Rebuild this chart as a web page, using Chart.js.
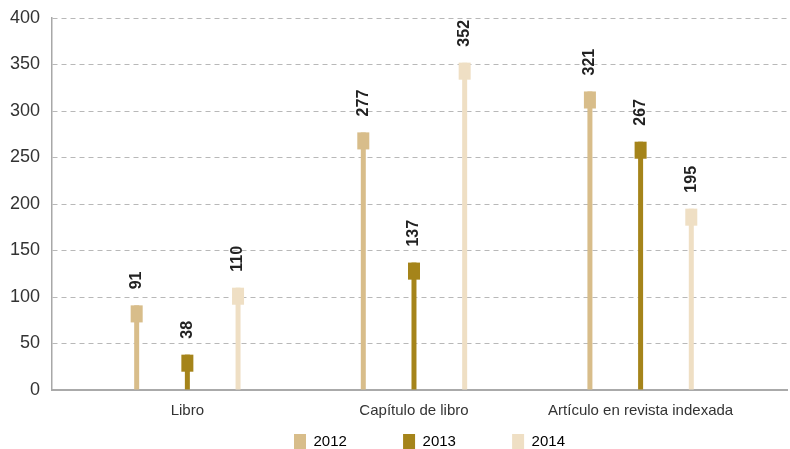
<!DOCTYPE html>
<html>
<head>
<meta charset="utf-8">
<script src="https://cdn.jsdelivr.net/npm/chart.js@4/dist/chart.umd.min.js"></script>
<style>
html,body{margin:0;padding:0;background:#fff;}
#wrap{width:790px;height:449px;}
</style>
</head>
<body>
<div id="wrap"><canvas id="c" width="790" height="449"></canvas></div>
<script>
const categories = ['Libro', 'Capítulo de libro', 'Artículo en revista indexada'];
const years = ['2012', '2013', '2014'];
const values2012 = [91, 277, 321];
const values2013 = [38, 137, 267];
const values2014 = [110, 352, 195];
const yTicks = [0, 50, 100, 150, 200, 250, 300, 350, 400];

const seriesValues = [values2012, values2013, values2014];
const colors = ['#d8bd8a', '#a5841a', '#efdfc4'];
const MARKER_UNITS = 17 / (371 / 400); // marker height expressed in value units

const datasets = [];
seriesValues.forEach((vals, s) => {
  datasets.push({
    label: years[s],
    kind: 'stem',
    stack: 's' + s,
    data: vals.map((v, i) => ({x: i + 1, y: v})),
    backgroundColor: colors[s],
    barPercentage: 0.0986,
    categoryPercentage: 0.671,
    order: 2
  });
  datasets.push({
    label: years[s],
    kind: 'marker',
    stack: 's' + s,
    data: vals.map((v, i) => ({x: i + 1, y: [v - MARKER_UNITS, v]})),
    backgroundColor: colors[s],
    barPercentage: 0.237,
    categoryPercentage: 0.671,
    order: 1
  });
});

const valueLabels = {
  id: 'valueLabels',
  afterDatasetsDraw(chart) {
    const ctx = chart.ctx;
    ctx.save();
    ctx.font = 'bold 16px "Liberation Sans", Arial, sans-serif';
    ctx.fillStyle = '#222';
    ctx.textAlign = 'left';
    ctx.textBaseline = 'middle';
    chart.data.datasets.forEach((ds, di) => {
      if (ds.kind !== 'marker') return;
      const meta = chart.getDatasetMeta(di);
      const s = Math.floor(di / 2);
      meta.data.forEach((el, i) => {
        ctx.save();
        ctx.translate(el.x, el.y - 16);
        ctx.rotate(-Math.PI / 2);
        ctx.fillText(String(seriesValues[s][i]), 0, 0);
        ctx.restore();
      });
    });
    ctx.restore();
  }
};

const legendShift = {
  id: 'legendShift',
  afterLayout(chart) {
    if (chart.legend) { chart.legend.left += 10; chart.legend.right += 10; }
  }
};

const legendTexts = years.map((y, i) => i < years.length - 1 ? y + '             ' : y);

new Chart(document.getElementById('c'), {
  type: 'bar',
  data: {datasets},
  plugins: [valueLabels, legendShift],
  options: {
    responsive: false,
    animation: false,
    layout: {padding: {top: 18, right: 3, left: 0, bottom: -10}},
    plugins: {
      tooltip: {enabled: false},
      legend: {
        position: 'bottom',
        fullSize: false,
        labels: {
          boxWidth: 12,
          boxHeight: 15,
          padding: 2,
          color: '#333',
          font: {size: 15, family: '"Liberation Sans", Arial, sans-serif'},
          generateLabels(chart) {
            return years.map((y, i) => ({
              text: legendTexts[i],
              fillStyle: colors[i],
              strokeStyle: colors[i],
              lineWidth: 0,
              hidden: false,
              datasetIndex: i * 2 + 1
            }));
          }
        },
        onClick() {}
      }
    },
    scales: {
      x: {
        type: 'linear',
        min: 0.4027,
        max: 3.646,
        offset: false,
        grid: {display: false, offset: false, drawTicks: false},
        border: {display: true, color: '#aaaaaa', width: 2},
        afterBuildTicks(scale) {
          scale.ticks = categories.map((c, i) => ({value: i + 1}));
        },
        ticks: {
          padding: 12,
          color: '#333',
          font: {size: 15, family: '"Liberation Sans", Arial, sans-serif'},
          callback(v) { return categories[Math.round(v) - 1]; },
          autoSkip: false,
          maxRotation: 0
        }
      },
      y: {
        min: 0,
        max: 400,
        stacked: false,
        afterBuildTicks(scale) {
          scale.ticks = yTicks.map(v => ({value: v}));
        },
        afterFit(scale) { scale.width = 52; scale.paddingTop = 0; scale.paddingBottom = 0; },
        grid: {color: '#b8b8b8', lineWidth: 1, drawTicks: false},
        border: {display: true, color: '#a8a8a8', width: 1.5, dash: [5, 4]},
        ticks: {
          padding: 12,
          color: '#333',
          font: {size: 18, family: '"Liberation Sans", Arial, sans-serif'}
        }
      }
    }
  }
});
</script>
</body>
</html>
